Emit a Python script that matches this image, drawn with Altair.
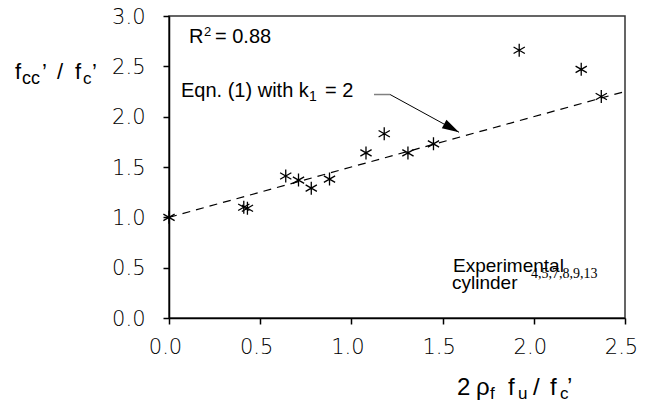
import altair as alt
import pandas as pd

x_vals = [0.0, 0.41, 0.43, 0.64, 0.71, 0.78, 0.88, 1.08, 1.18, 1.31, 1.45, 1.92, 2.26, 2.37]
y_vals = [1.00, 1.10, 1.09, 1.41, 1.37, 1.29, 1.38, 1.64, 1.83, 1.64, 1.73, 2.66, 2.47, 2.20]

# Eqn. (1) line
eq_x = [0.0, 2.5]
eq_y = [1.0, 2.25]

# annotation pointer (data coordinates)
gray_x = [1.124, 1.212]
gray_y = [2.22, 2.22]
arrow_x = [1.212, 1.590]
arrow_y = [2.22, 1.845]

x_ticks = [0.0, 0.5, 1.0, 1.5, 2.0, 2.5]
y_ticks = [0.0, 0.5, 1.0, 1.5, 2.0, 2.5, 3.0]

# text pieces: text, x offset, y offset (pixels from plot origin), font size
sans_text = ["f", "cc", "\u2019", "/", "f", "c", "\u2019",
             "2", "\u03c1", "f", "f", "u", "/", "f", "c", "\u2019",
             "R", "2", "= 0.88",
             "Eqn. (1) with k", "1", "= 2",
             "Experimental", "cylinder"]
sans_px = [-154, -147, -127, -112, -94, -86, -77,
           288, 307, 321, 339, 349, 364, 381, 391, 398,
           20, 35, 46,
           12, 140, 156,
           284, 283]
sans_py = [63, 68, 63, 63, 63, 68, 63,
           379, 379, 383, 379, 383, 379, 379, 383, 379,
           27, 20, 27,
           81, 85, 81,
           256, 273]
sans_size = [22, 18, 22, 22, 22, 17, 22,
             24, 24, 17, 24, 17, 24, 24, 17, 24,
             20, 13, 20,
             20, 14, 20,
             19, 19]

serif_text = ["4,5,7,8,9,13"]
serif_px = [362]
serif_py = [262]
serif_size = [14]

pts = pd.DataFrame({"x": x_vals, "y": y_vals})
eq = pd.DataFrame({"x": eq_x, "y": eq_y})
gray = pd.DataFrame({"x": [gray_x[0]], "x2": [gray_x[1]], "y": [gray_y[0]], "y2": [gray_y[1]]})
arr = pd.DataFrame({"x": [arrow_x[0]], "x2": [arrow_x[1]], "y": [arrow_y[0]], "y2": [arrow_y[1]]})
head = pd.DataFrame({"x": [arrow_x[1]], "y": [arrow_y[1]]})
sans = pd.DataFrame({"t": sans_text, "px": sans_px, "py": sans_py, "s": sans_size})
serif = pd.DataFrame({"t": serif_text, "px": serif_px, "py": serif_py, "s": serif_size})

xscale = alt.Scale(domain=[0, 2.5], nice=False, zero=False)
yscale = alt.Scale(domain=[0, 3], nice=False, zero=False)
xaxis = alt.Axis(values=x_ticks, format=".1f", title=None, grid=False, labelPadding=12,
                 labelFlush=False, labelOffset=-4)
yaxis = alt.Axis(values=y_ticks, format=".1f", title=None, grid=False, labelPadding=18,
                 labelFlush=False, labelOffset=1)

star = "M0,-1L0,1M-0.866,-0.5L0.866,0.5M-0.866,0.5L0.866,-0.5"
tri = "M0,0L-0.28,1L0.28,1Z"

points = alt.Chart(pts).mark_point(shape=star, filled=False, stroke="black",
                                   strokeWidth=1.3, size=169, opacity=1).encode(
    x=alt.X("x:Q", scale=xscale, axis=xaxis),
    y=alt.Y("y:Q", scale=yscale, axis=yaxis),
)

line = alt.Chart(eq).mark_line(color="black", strokeDash=[8, 6], strokeWidth=1.2).encode(
    x="x:Q", y="y:Q"
)

gray_rule = alt.Chart(gray).mark_rule(color="#808080", strokeWidth=1.5).encode(
    x="x:Q", x2="x2", y="y:Q", y2="y2"
)
arrow_rule = alt.Chart(arr).mark_rule(color="black", strokeWidth=1).encode(
    x="x:Q", x2="x2", y="y:Q", y2="y2"
)
arrow_head = alt.Chart(head).mark_point(shape=tri, filled=True, color="black",
                                        size=1156, angle=119, opacity=1).encode(
    x="x:Q", y="y:Q"
)

sans_layer = alt.Chart(sans).mark_text(font="Liberation Sans", align="left",
                                       baseline="alphabetic", color="black").encode(
    x=alt.X("px:Q", scale=None, axis=None),
    y=alt.Y("py:Q", scale=None, axis=None),
    size=alt.Size("s:Q", scale=None, legend=None),
    text="t:N",
)
serif_layer = alt.Chart(serif).mark_text(font="Liberation Serif", align="left",
                                         baseline="alphabetic", color="black").encode(
    x=alt.X("px:Q", scale=None, axis=None),
    y=alt.Y("py:Q", scale=None, axis=None),
    size=alt.Size("s:Q", scale=None, legend=None),
    text="t:N",
)

chart = alt.layer(line, points, gray_rule, arrow_rule, arrow_head, sans_layer, serif_layer).properties(
    width=456, height=302,
    autosize=alt.AutoSizeParams(type="none"),
    padding={"left": 161, "top": 8, "right": 15, "bottom": 88},
).configure_view(
    stroke="#333333", strokeWidth=1.5
).configure_axis(
    domainColor="black", domainWidth=1.5, tickColor="black", tickWidth=1.5,
    tickSize=6, labelFont="DejaVu Sans", labelFontSize=21, labelColor="black",
    labelFontWeight=200
)

chart.save("out.html", embed_options={"renderer": "svg", "actions": False})
